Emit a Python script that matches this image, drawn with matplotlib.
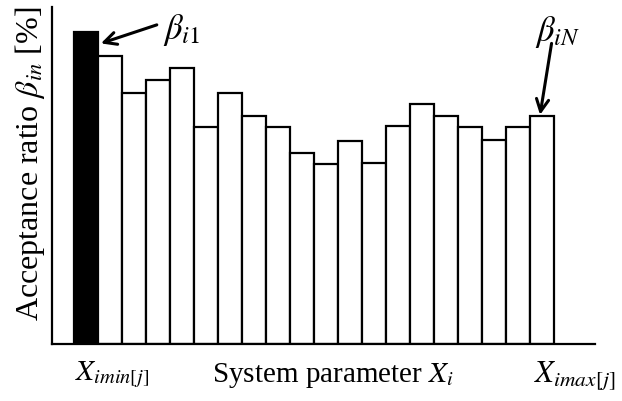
import matplotlib
matplotlib.use("Agg")
import matplotlib.pyplot as plt
import numpy as np

plt.rcParams['font.family'] = ['Liberation Serif', 'DejaVu Serif']
plt.rcParams['mathtext.fontset'] = 'stix'

# Acceptance ratio values (% of axis height) for 20 parameter intervals
values = [92.7, 85.5, 74.4, 78.3, 81.8, 64.5, 74.6, 67.7, 64.5, 56.8,
          53.3, 60.3, 53.6, 64.7, 71.2, 67.7, 64.3, 60.5, 64.3, 67.7]
ylabel = r'Acceptance ratio $\beta_{in}$ [%]'
xlabel = r'System parameter $X_i$'
x_left_label = r'$X_{imin[j]}$'
x_right_label = r'$X_{imax[j]}$'
label_first = r'$\beta_{i1}$'
label_last = r'$\beta_{iN}$'

fig = plt.figure(figsize=(6.22, 4.01), dpi=100)
ax = fig.add_axes([52/622, 1-344/401, (595-52)/622, (344-7)/401])

x = np.arange(len(values))
colors = ['black'] + ['white'] * (len(values) - 1)
ax.bar(x, values, width=1.0, color=colors, edgecolor='black', linewidth=1.6)

ax.set_xlim(-1.417, 21.21)
ax.set_ylim(0, 100)
ax.spines['top'].set_visible(False)
ax.spines['right'].set_visible(False)
ax.spines['left'].set_linewidth(1.6)
ax.spines['bottom'].set_linewidth(1.6)
ax.set_xticks([])
ax.set_yticks([])

fig.text(30/622, 1-164/401, ylabel, rotation=90, ha='center', va='center', fontsize=23)
fig.text(333/622, 1-375/401, xlabel, ha='center', va='center', fontsize=21)
fig.text(112/622, 1-375/401, x_left_label, ha='center', va='center', fontsize=21)
fig.text(575/622, 1-375/401, x_right_label, ha='center', va='center', fontsize=22)

# annotations
ax.text(4.0, 93.2, label_first, ha='center', va='center', fontsize=25)
ax.annotate('', xy=(0.62, values[0] - 3.5), xytext=(2.95, 94.7),
            arrowprops=dict(arrowstyle='->', lw=2.2, color='black', mutation_scale=22,
                            shrinkA=0, shrinkB=0))
ax.text(19.67, 92.5, label_last, ha='center', va='center', fontsize=25)
ax.annotate('', xy=(18.92, values[-1] + 0.3), xytext=(19.4, 89.2),
            arrowprops=dict(arrowstyle='->', lw=2.2, color='black', mutation_scale=22,
                            shrinkA=0, shrinkB=0))

fig.savefig('out.png', dpi=100)
